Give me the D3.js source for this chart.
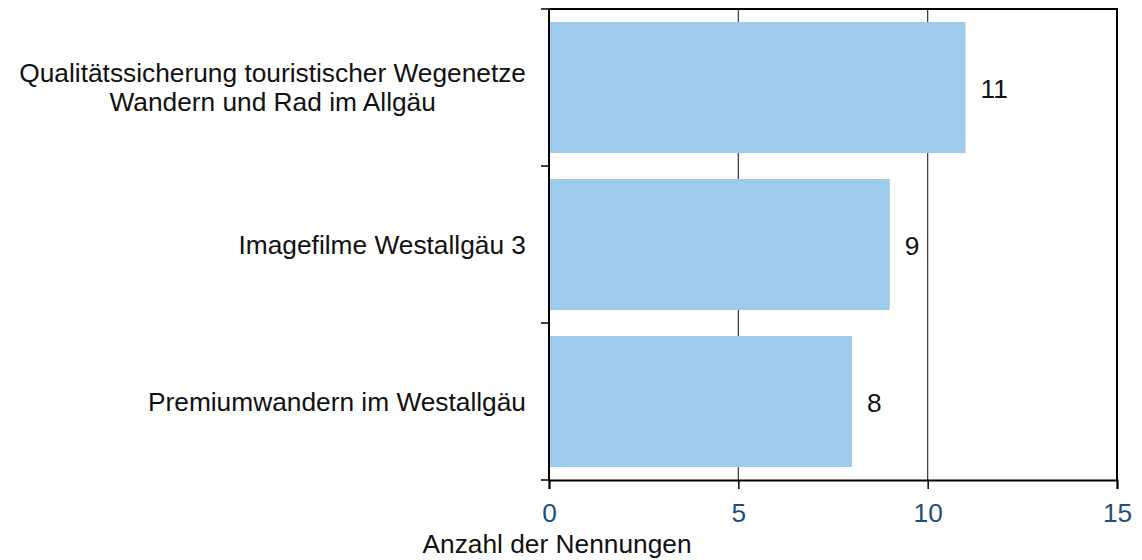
<!DOCTYPE html>
<html><head><meta charset="utf-8">
<script src="https://cdn.jsdelivr.net/npm/d3@7"></script>
<style>body{margin:0;background:#fff}svg{display:block;font-family:"Liberation Sans",Arial,sans-serif}</style>
</head><body>
<svg id="c" width="1142" height="560"></svg>
<script>
const categories = [
  ["Qualitätssicherung touristischer Wegenetze", "Wandern und Rad im Allgäu"],
  ["Imagefilme Westallgäu 3"],
  ["Premiumwandern im Westallgäu"]
];
const values = [11, 9, 8];
const xTicks = [0, 5, 10, 15];
const axisTitle = "Anzahl der Nennungen";

const FS = 26.3;
const svg = d3.select("#c");
const L = 549, R = 1117, T = 9, B = 480;
const x = d3.scaleLinear().domain([0, 15]).range([L, R]);
const y = d3.scaleBand().domain(d3.range(categories.length)).range([T, B]).paddingInner(0.165).paddingOuter(0.0825);

// gridlines
svg.append("g").selectAll("line").data(xTicks.filter(t => t > 0 && t < 15)).join("line")
  .attr("x1", d => x(d)).attr("x2", d => x(d)).attr("y1", T).attr("y2", B)
  .attr("stroke", "#333").attr("stroke-width", 1.2);

// bars
svg.append("g").selectAll("rect").data(values).join("rect")
  .attr("x", x(0)).attr("y", (d, i) => y(i))
  .attr("width", d => x(d) - x(0)).attr("height", y.bandwidth())
  .attr("fill", "#9ECBEC");

// frame top/right
svg.append("path").attr("d", `M${L},${T}H${R}V${B}`).attr("fill", "none").attr("stroke", "#000").attr("stroke-width", 2);

// bottom axis
const xa = svg.append("g").attr("transform", `translate(0,${B})`)
  .call(d3.axisBottom(x).tickValues(xTicks).tickSize(9).tickPadding(14));
xa.select(".domain").attr("stroke", "#000").attr("stroke-width", 2);
xa.selectAll(".tick line").attr("stroke", "#000").attr("stroke-width", 1.5);
xa.selectAll(".tick text").attr("fill", "#1F4E79").attr("font-size", FS).attr("font-family", "Liberation Sans, Arial, sans-serif");

// left axis line with band-boundary ticks
const bounds = d3.range(categories.length + 1).map(i => T + i * (B - T) / categories.length);
svg.append("line").attr("x1", L).attr("x2", L).attr("y1", T).attr("y2", B).attr("stroke", "#000").attr("stroke-width", 2);
svg.append("g").selectAll("line").data(bounds).join("line")
  .attr("x1", L - 8).attr("x2", L).attr("y1", d => d).attr("y2", d => d)
  .attr("stroke", "#000").attr("stroke-width", 1.5);

// category labels (lines centred on each other, block right-aligned)
const cl = svg.append("g").selectAll("text").data(categories).join("text")
  .attr("font-size", FS).attr("fill", "#111")
  .attr("y", (d, i) => y(i) + y.bandwidth() / 2);
cl.each(function(d) {
  const n = d.length, lh = 29;
  const ts = d3.select(this).selectAll("tspan").data(d).join("tspan")
    .attr("x", 0)
    .attr("dy", (t, j) => j === 0 ? ((-(n - 1) * lh / 2) + 9) : lh)
    .attr("text-anchor", "middle")
    .text(t => t);
  let w = 0;
  ts.each(function() { w = Math.max(w, this.getComputedTextLength()); });
  ts.attr("x", 526 - w / 2);
});

// value labels
svg.append("g").selectAll("text").data(values).join("text")
  .attr("x", d => x(d) + 15).attr("y", (d, i) => y(i) + y.bandwidth() / 2 + 10)
  .attr("font-size", FS).attr("fill", "#111").text(d => d);

// axis title
svg.append("text").attr("x", 557).attr("y", 553).attr("text-anchor", "middle")
  .attr("font-size", FS).attr("fill", "#111").text(axisTitle);
</script>
</body></html>
